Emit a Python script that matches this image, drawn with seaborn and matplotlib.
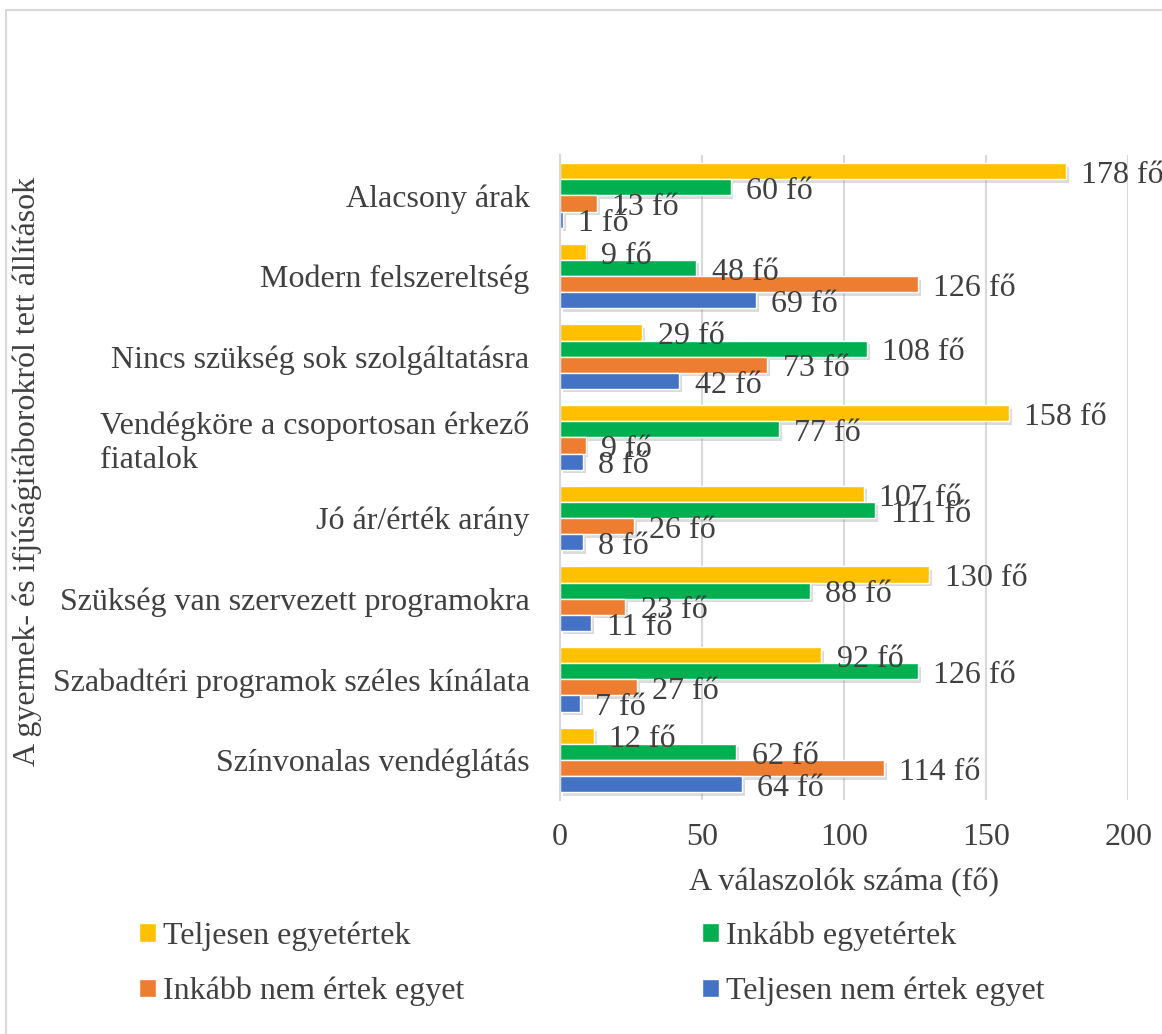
import matplotlib
matplotlib.use("Agg")
import matplotlib.pyplot as plt
import matplotlib.patheffects as pe
from matplotlib.patches import Rectangle
import pandas as pd
import seaborn as sns

categories = [
    "Alacsony árak",
    "Modern felszereltség",
    "Nincs szükség sok szolgáltatásra",
    "Vendégköre a csoportosan érkező\nfiatalok",
    "Jó ár/érték arány",
    "Szükség van szervezett programokra",
    "Szabadtéri programok széles kínálata",
    "Színvonalas vendéglátás",
]
series = [
    "Teljesen egyetértek",
    "Inkább egyetértek",
    "Inkább nem értek egyet",
    "Teljesen nem értek egyet",
]
teljesen_egyet = [178, 9, 29, 158, 107, 130, 92, 12]
inkabb_egyet = [60, 48, 108, 77, 111, 88, 126, 62]
inkabb_nem = [13, 126, 73, 9, 26, 23, 27, 114]
teljesen_nem = [1, 69, 42, 8, 8, 11, 7, 64]
colors = ["#FFC000", "#00B050", "#ED7D31", "#4472C4"]

values = [teljesen_egyet, inkabb_egyet, inkabb_nem, teljesen_nem]
rows = []
for s, vals in zip(series, values):
    for c, v in zip(categories, vals):
        rows.append({"cat": c, "series": s, "value": v})
df = pd.DataFrame(rows)

sns.set_style("white")
plt.rcParams["font.family"] = ["Liberation Serif", "DejaVu Serif"]
text_color = "#404040"
fs = 23

fig = plt.figure(figsize=(11.62, 10.34), dpi=100)
ax = fig.add_axes([0.482, 0.226, 0.489, 0.624])

sns.barplot(
    data=df, y="cat", x="value", hue="series", hue_order=series,
    order=categories, palette=colors, orient="h", width=0.8,
    saturation=1, ax=ax, legend=False,
)

for container in ax.containers:
    for bar in container:
        bar.set_path_effects([
            pe.SimplePatchShadow(offset=(2, -2.5), shadow_rgbFace="#9a9a9a", alpha=0.35),
            pe.Normal(),
        ])
        w = bar.get_width()
        ax.annotate(
            f"{int(round(w))} fő",
            xy=(w, bar.get_y() + bar.get_height() / 2),
            xytext=(11, -3), textcoords="offset points",
            ha="left", va="center", fontsize=fs, color=text_color,
            annotation_clip=False,
        )

ax.set_xlim(0, 200)
ax.set_xticks([0, 50, 100, 150, 200])
ax.grid(axis="x", color="#d9d9d9", linewidth=1.5)
ax.set_axisbelow(True)
for side in ["top", "right", "bottom"]:
    ax.spines[side].set_visible(False)
ax.spines["left"].set_color("#d9d9d9")
ax.spines["left"].set_linewidth(1.5)
ax.tick_params(axis="both", length=0, labelsize=fs, colors=text_color)
ax.tick_params(axis="y", pad=22)
ax.tick_params(axis="x", pad=16)
for lab in ax.get_yticklabels():
    lab.set_multialignment("left")

ax.set_xlabel("A válaszolók száma (fő)", fontsize=fs, color=text_color, labelpad=12)
ax.set_ylabel("A gyermek- és ifjúságitáborokról tett állítások", fontsize=fs, color=text_color)
ax.yaxis.set_label_coords(-0.912, 0.51)

handles = [Rectangle((0, 0), 1, 1, facecolor=c) for c in colors]
order = [0, 2, 1, 3]
fig.legend(
    [handles[i] for i in order], [series[i] for i in order],
    loc="upper left", bbox_to_anchor=(0.0947, 0.1364), ncol=2, frameon=False,
    fontsize=fs, labelcolor=text_color, handlelength=0.53, handleheight=0.53,
    handletextpad=0.22, columnspacing=7.45, labelspacing=0.8,
)

fig.add_artist(Rectangle((6 / 1162, -0.1), 1.2, 1.1 - 10 / 1034,
                         transform=fig.transFigure, fill=False,
                         edgecolor="#d9d9d9", linewidth=1.5))

fig.savefig("out.png", dpi=100)
